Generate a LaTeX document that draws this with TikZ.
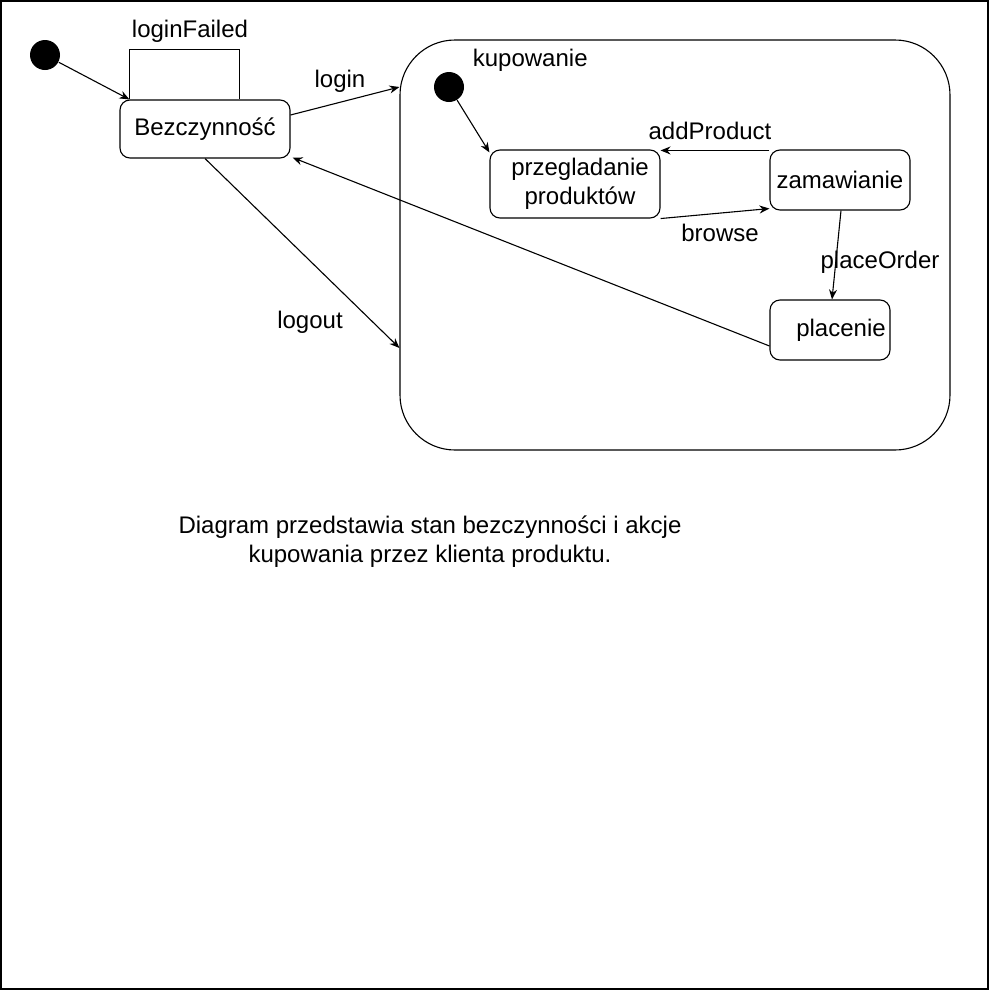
\documentclass[tikz,border=0pt]{standalone}
\usepackage{fontspec}
\setmainfont{Liberation Sans}
\usetikzlibrary{arrows.meta}

\begin{document}
\begin{tikzpicture}[x=1pt, y=-1pt, line width=1.1pt,
    font=\fontsize{24}{29}\selectfont,
    state/.style={draw, rounded corners=10pt, inner sep=0pt},
    initial/.style={circle, fill=black, minimum size=30pt, inner sep=0pt},
    trans/.style={-{Stealth[length=10pt, width=8pt]}}]
    
    \useasboundingbox (0,0) rectangle (991,991);
    \draw (1,1) rectangle (988,989);
    
    \coordinate (s0) at (45,55);
    \coordinate (s1) at (449,87);
    
    % outer states
    \node[initial] (start) at (s0) {};
    \node[state, minimum width=170pt, minimum height=58pt] (bez) at (205,129) {Bezczynność};
    
    % composite state
    \node[draw, rounded corners=55pt, minimum width=550pt, minimum height=410pt] (kup) at (675,245) {};
    \node[anchor=west] (kuplabel) at (469,60) {kupowanie};
    \node[initial] (istart) at (s1) {};
    \node[state, minimum width=170pt, minimum height=68pt, align=center] (prz) at (575,184) {\hspace*{10pt}przegladanie\\\hspace*{10pt}produktów};
    \node[state, minimum width=140pt, minimum height=60pt] (zam) at (840,180) {zamawianie};
    \node[state, minimum width=120pt, minimum height=60pt] (plac) at (830,330) {\hspace*{22pt}placenie};
    
    % transitions
    \draw[trans] (start) -- ([xshift=10pt]bez.north west);
    \draw ([xshift=10pt]bez.north west) -- ++(0,-50) -- ++(110,0) -- ++(0,50);
    \draw[trans] ([yshift=14pt]bez.east) -- ([yshift=158pt]kup.west);
    \draw[trans] (bez.south) -- ([yshift=-103pt]kup.west);
    \draw[trans] ([yshift=-16pt]plac.west) -- ([xshift=2pt,yshift=1pt]bez.south east);
    \draw[trans] (istart) -- ([yshift=-3pt]prz.north west);
    \draw[trans] ([yshift=-1pt]zam.north west) -- ([yshift=-1pt]prz.north east);
    \draw[trans] (prz.south east) -- ([yshift=2pt]zam.south west);
    \draw[trans] ([xshift=1pt]zam.south) -- ([xshift=2pt]plac.north);
    
    % labels
    \node (lfailed) at (190,31) {loginFailed};
    \node (llogin) at (340,81) {login};
    \node (llogout) at (310,322) {logout};
    \node (ladd) at (710,131) {addProduct};
    \node (lbrowse) at (720,233) {browse};
    \node (lorder) at (880,262) {placeOrder};
    
    \node[align=center] (desc) at (430,542) {Diagram przedstawia stan bezczynności i akcje\\kupowania przez klienta produktu.};
\end{tikzpicture}
\end{document}
